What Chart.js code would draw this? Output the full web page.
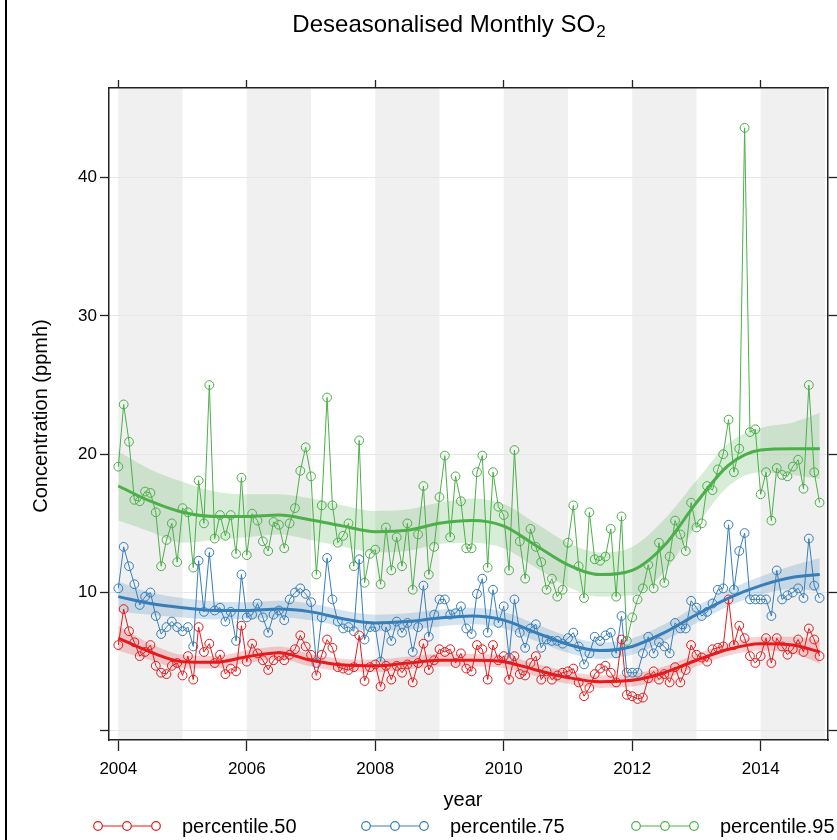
<!DOCTYPE html>
<html>
<head>
<meta charset="utf-8">
<script src="https://cdn.jsdelivr.net/npm/chart.js@4.4.1/dist/chart.umd.min.js"></script>
<style>
  body { margin: 0; background: #fff; }
  canvas { display: block; }
</style>
</head>
<body>
<canvas id="canvas" width="837" height="840"></canvas>
<script>
// monthly values, Jan 2004 .. Dec 2014
var startYear = 2004;

var p50 = [6.2, 8.8, 7.2, 6.4, 5.4, 5.7, 6.2, 4.7, 4.2, 4.1, 4.7, 4.9,
           4.0, 5.4, 3.7, 7.5, 5.7, 6.3, 4.9, 5.5, 4.1, 4.5, 4.3, 7.6,
           5.0, 6.3, 5.6, 5.1, 4.4, 5.1, 5.4, 5.1, 5.5, 5.9, 6.9, 6.1,
           5.5, 4.0, 5.5, 6.6, 6.0, 4.6, 4.5, 4.4, 4.6, 6.9, 3.6, 4.6,
           4.8, 3.2, 4.7, 3.7, 4.7, 4.2, 4.8, 3.5, 4.9, 6.3, 4.4, 5.1,
           5.9, 5.7, 5.9, 4.9, 5.6, 4.5, 4.3, 6.2, 5.9, 3.7, 6.2, 5.1,
           5.4, 3.7, 5.4, 4.1, 4.0, 4.9, 5.4, 3.7, 4.3, 3.7, 4.0, 4.2,
           4.3, 4.5, 3.5, 2.5, 3.1, 4.1, 4.5, 4.7, 4.2, 3.5, 6.6, 2.6,
           2.5, 2.3, 2.4, 3.8, 4.3, 3.7, 4.1, 3.5, 4.6, 3.5, 4.4, 6.2,
           5.5, 5.3, 5.0, 5.9, 6.0, 6.1, 9.5, 6.2, 7.6, 6.7, 5.4, 4.9,
           5.4, 6.7, 4.9, 6.7, 6.1, 5.5, 5.9, 6.6, 5.7, 7.4, 6.6, 5.4];

var p75 = [10.3, 13.3, 11.9, 10.6, 9.1, 9.7, 10.0, 8.3, 7.0, 7.5, 7.9, 7.5,
           7.2, 7.5, 6.1, 12.3, 8.6, 12.9, 8.7, 8.9, 7.9, 8.6, 6.5, 11.3,
           8.2, 8.4, 9.2, 8.2, 7.1, 8.4, 8.7, 8.0, 9.5, 10.0, 10.3, 9.9,
           9.3, 4.9, 8.2, 12.5, 9.5, 7.9, 7.4, 7.5, 7.2, 12.4, 6.6, 7.5,
           7.5, 5.0, 7.5, 6.5, 7.9, 7.1, 7.8, 5.7, 7.5, 10.5, 6.8, 8.4,
           9.5, 9.5, 8.4, 8.5, 9.0, 7.4, 7.0, 9.9, 11.0, 7.1, 10.2, 7.8,
           9.0, 5.3, 9.5, 7.1, 6.0, 7.4, 7.7, 6.0, 6.6, 6.5, 6.5, 6.3,
           6.7, 7.1, 6.1, 4.8, 5.6, 6.8, 6.5, 6.9, 7.1, 5.6, 8.3, 4.2,
           4.2, 4.2, 5.6, 6.8, 5.6, 6.4, 6.1, 5.6, 7.8, 7.4, 7.4, 9.4,
           8.9, 8.3, 8.6, 9.2, 10.2, 10.3, 14.9, 10.2, 13.0, 14.3, 9.5, 9.5,
           9.5, 9.5, 8.3, 11.6, 9.5, 9.8, 10.0, 10.3, 9.6, 13.9, 10.5, 9.6];

var p95 = [19.1, 23.6, 20.9, 16.7, 16.6, 17.3, 17.2, 15.8, 11.9, 13.8, 15.0, 12.2,
           16.1, 15.8, 11.8, 18.1, 15.0, 25.0, 13.9, 15.6, 14.1, 15.6, 12.8, 18.3,
           12.7, 15.7, 15.2, 13.7, 13.0, 15.1, 14.9, 13.2, 15.0, 16.1, 18.8, 20.5,
           18.4, 11.3, 16.3, 24.1, 16.3, 13.6, 14.1, 15.0, 11.9, 21.0, 10.7, 12.8,
           13.1, 10.6, 14.7, 11.6, 14.0, 11.9, 15.0, 10.2, 14.2, 17.7, 11.3, 13.3,
           16.9, 19.9, 14.0, 18.4, 16.6, 13.2, 13.2, 18.7, 19.9, 11.8, 18.7, 16.2,
           15.6, 11.6, 20.3, 13.7, 11.0, 14.6, 13.3, 12.2, 10.2, 11.0, 9.7, 10.2,
           13.6, 16.3, 11.9, 9.6, 15.8, 12.4, 12.3, 12.6, 14.6, 9.7, 15.5, 6.5,
           8.2, 9.5, 10.3, 12.0, 10.3, 13.6, 10.7, 12.6, 15.2, 14.2, 13.0, 16.5,
           14.7, 15.0, 17.7, 17.4, 18.9, 20.0, 22.5, 18.7, 20.4, 43.6, 21.6, 21.8,
           17.1, 18.7, 15.2, 19.0, 18.5, 18.4, 19.1, 19.6, 17.5, 25.0, 18.7, 16.5];

// smooth trend with its confidence band
var trendYears = [2004.0, 2004.5, 2005.0, 2005.5, 2006.0, 2006.5, 2007.0, 2007.5,
                  2008.0, 2008.5, 2009.0, 2009.5, 2010.0, 2010.5, 2011.0, 2011.5,
                  2012.0, 2012.5, 2013.0, 2013.5, 2014.0, 2014.5, 2014.92];

var p50Trend = [6.7, 5.7, 5.0, 4.95, 5.35, 5.65, 5.1, 4.75, 4.7, 4.9, 5.1, 5.1,
                5.0, 4.4, 3.85, 3.55, 3.65, 4.2, 5.1, 5.9, 6.3, 6.2, 5.7];
var p50Upper = [7.6, 6.3, 5.5, 5.4, 5.8, 6.1, 5.55, 5.2, 5.15, 5.35, 5.55, 5.55,
                5.45, 4.85, 4.3, 4.0, 4.1, 4.65, 5.55, 6.35, 6.8, 6.8, 6.55];
var p50Lower = [5.8, 5.1, 4.5, 4.5, 4.9, 5.2, 4.65, 4.3, 4.25, 4.45, 4.65, 4.65,
                4.55, 3.95, 3.4, 3.1, 3.2, 3.75, 4.65, 5.45, 5.8, 5.6, 4.85];

var p75Trend = [9.7, 9.2, 8.9, 8.7, 8.7, 8.8, 8.6, 8.1, 7.8, 7.9, 8.15, 8.3,
                8.0, 7.1, 6.25, 5.8, 6.1, 7.1, 8.4, 9.6, 10.5, 11.1, 11.3];
var p75Upper = [10.8, 10.0, 9.6, 9.35, 9.3, 9.4, 9.2, 8.7, 8.4, 8.5, 8.75, 8.9,
                8.6, 7.7, 6.85, 6.4, 6.7, 7.7, 9.0, 10.2, 11.15, 11.95, 12.5];
var p75Lower = [8.6, 8.4, 8.2, 8.05, 8.1, 8.2, 8.0, 7.5, 7.2, 7.3, 7.55, 7.7,
                7.4, 6.5, 5.65, 5.2, 5.5, 6.5, 7.8, 9.0, 9.85, 10.25, 10.1];

var p95Trend = [17.7, 16.6, 15.8, 15.5, 15.5, 15.6, 15.25, 14.8, 14.4, 14.5, 15.0, 15.2,
                14.8, 13.4, 12.0, 11.3, 11.6, 13.4, 16.5, 19.2, 20.3, 20.4, 20.4];
var p95Upper = [20.2, 18.9, 18.0, 17.3, 17.1, 17.1, 16.8, 16.3, 15.9, 16.0, 16.5, 16.8,
                16.4, 15.0, 13.6, 12.9, 13.3, 15.3, 18.1, 20.8, 21.9, 22.3, 23.0];
var p95Lower = [15.2, 14.4, 13.6, 13.8, 14.0, 14.2, 13.8, 13.3, 12.9, 13.0, 13.5, 13.6,
                13.2, 11.8, 10.4, 9.7, 9.8, 11.5, 14.8, 17.7, 18.7, 18.5, 18.2];

var seriesNames = ['percentile.50', 'percentile.75', 'percentile.95'];
var seriesColors = ['#E41A1C', '#377EB8', '#4DAF4A'];
var bandColors = ['rgba(228,26,28,0.2)', 'rgba(55,126,184,0.22)', 'rgba(77,175,74,0.22)'];

var yearTicks = [2004, 2006, 2008, 2010, 2012, 2014];
var shadedYears = [2004, 2006, 2008, 2010, 2012, 2014];
var concTicks = [0, 10, 20, 30, 40];
var concLabels = ['', '10', '20', '30', '40'];

var FONT = '"Liberation Sans", Arial, Helvetica, sans-serif';

function monthly(values) {
    return values.map(function (v, i) { return { x: startYear + i / 12, y: v }; });
}
function trend(values) {
    return values.map(function (v, i) { return { x: trendYears[i], y: v }; });
}

var raw = [p50, p75, p95];
var mids = [p50Trend, p75Trend, p95Trend];
var uppers = [p50Upper, p75Upper, p95Upper];
var lowers = [p50Lower, p75Lower, p95Lower];

var datasets = [];
for (var k = 0; k < 3; k++) {
    datasets.push({
        label: seriesNames[k] + ' lower',
        data: trend(lowers[k]),
        borderWidth: 0, pointRadius: 0, fill: false,
        cubicInterpolationMode: 'monotone', order: 3
    });
    datasets.push({
        label: seriesNames[k] + ' upper',
        data: trend(uppers[k]),
        borderWidth: 0, pointRadius: 0, fill: '-1',
        backgroundColor: bandColors[k],
        cubicInterpolationMode: 'monotone', order: 3
    });
    datasets.push({
        label: seriesNames[k],
        data: monthly(raw[k]),
        borderColor: seriesColors[k],
        borderWidth: 1,
        pointRadius: 4.4,
        pointBorderWidth: 1,
        pointBorderColor: seriesColors[k],
        pointBackgroundColor: 'rgba(0,0,0,0)',
        tension: 0, order: 2
    });
    datasets.push({
        label: seriesNames[k] + ' trend',
        data: trend(mids[k]),
        borderColor: seriesColors[k],
        borderWidth: 3,
        pointRadius: 0,
        cubicInterpolationMode: 'monotone', order: 1
    });
}

var decorations = {
    id: 'decorations',
    beforeDraw: function (chart) {
        var ctx = chart.ctx, area = chart.chartArea, xs = chart.scales.x;
        ctx.save();
        ctx.fillStyle = '#fff';
        ctx.fillRect(0, 0, chart.width, chart.height);
        ctx.fillStyle = '#f0f0f0';
        shadedYears.forEach(function (yr) {
            var a = Math.max(xs.getPixelForValue(yr), area.left);
            var b = Math.min(xs.getPixelForValue(yr + 1), area.right);
            if (b > a) ctx.fillRect(a, area.top, b - a, area.bottom - area.top);
        });
        ctx.restore();
    },
    afterDraw: function (chart) {
        var ctx = chart.ctx;
        ctx.save();
        ctx.fillStyle = '#000';

        // title with subscript
        var main = 'Deseasonalised Monthly SO';
        ctx.font = '24px ' + FONT;
        var w1 = ctx.measureText(main).width;
        ctx.font = '17px ' + FONT;
        var w2 = ctx.measureText('2').width;
        var tx = 448.5 - (w1 + w2) / 2;
        ctx.textBaseline = 'alphabetic';
        ctx.textAlign = 'left';
        ctx.font = '24px ' + FONT;
        ctx.fillText(main, tx, 32);
        ctx.font = '17px ' + FONT;
        ctx.fillText('2', tx + w1 + 1, 37);

        // axis titles
        ctx.font = '20px ' + FONT;
        ctx.textAlign = 'center';
        ctx.fillText('year', 463, 806);
        ctx.save();
        ctx.translate(47, 416);
        ctx.rotate(-Math.PI / 2);
        ctx.fillText('Concentration (ppmh)', 0, 0);
        ctx.restore();

        // legend
        var starts = [98, 366, 636];
        ctx.textAlign = 'left';
        for (var i = 0; i < 3; i++) {
            var x0 = starts[i], y0 = 826;
            ctx.strokeStyle = seriesColors[i];
            ctx.lineWidth = 1.2;
            ctx.beginPath();
            ctx.moveTo(x0, y0);
            ctx.lineTo(x0 + 58, y0);
            ctx.stroke();
            for (var m = 0; m < 3; m++) {
                ctx.beginPath();
                ctx.arc(x0 + m * 29, y0, 4.3, 0, Math.PI * 2);
                ctx.fillStyle = '#fff';
                ctx.fill();
                ctx.stroke();
            }
            ctx.fillStyle = '#000';
            ctx.fillText(seriesNames[i], x0 + 84, 833);
        }

        // outer frame line on the left
        ctx.fillStyle = '#000';
        ctx.fillRect(5, 0, 2, chart.height);
        ctx.restore();
    }
};

var frame = { display: true, color: '#222', width: 1.5 };

new Chart(document.getElementById('canvas'), {
    type: 'line',
    data: { datasets: datasets },
    plugins: [decorations],
    options: {
        responsive: false,
        animation: false,
        devicePixelRatio: 1,
        layout: { padding: 0 },
        plugins: {
            legend: { display: false },
            title: { display: false },
            tooltip: { enabled: false }
        },
        scales: {
            x: {
                type: 'linear', position: 'bottom',
                min: 2003.855, max: 2015.048,
                afterFit: function (s) { s.height = 100; },
                afterBuildTicks: function (s) { s.ticks = yearTicks.map(function (v) { return { value: v }; }); },
                ticks: {
                    callback: function (v) { return String(v); },
                    font: { size: 17, family: FONT }, color: '#000',
                    padding: 8, maxRotation: 0, autoSkip: false
                },
                grid: { drawOnChartArea: false, tickLength: 11, tickColor: '#222', tickWidth: 1.3 },
                border: frame
            },
            xTop: {
                type: 'linear', position: 'top',
                min: 2003.855, max: 2015.048,
                afterFit: function (s) { s.height = 88; },
                afterBuildTicks: function (s) { s.ticks = yearTicks.map(function (v) { return { value: v }; }); },
                ticks: { display: false },
                grid: { drawOnChartArea: false, tickLength: 8, tickColor: '#222', tickWidth: 1.3 },
                border: frame
            },
            y: {
                type: 'linear', position: 'left',
                min: -0.665, max: 46.48,
                afterFit: function (s) { s.width = 109; },
                afterBuildTicks: function (s) { s.ticks = concTicks.map(function (v) { return { value: v }; }); },
                ticks: {
                    callback: function (v, i) { return concLabels[i]; },
                    font: { size: 17, family: FONT }, color: '#000', padding: 3
                },
                grid: { color: '#e6e6e6', lineWidth: 1, tickLength: 9, tickColor: '#222', tickWidth: 1.3 },
                border: frame
            },
            yRight: {
                type: 'linear', position: 'right',
                min: -0.665, max: 46.48,
                afterFit: function (s) { s.width = 9; },
                afterBuildTicks: function (s) { s.ticks = concTicks.map(function (v) { return { value: v }; }); },
                ticks: { display: false },
                grid: { drawOnChartArea: false, tickLength: 9, tickColor: '#222', tickWidth: 1.3 },
                border: frame
            }
        }
    }
});
</script>
</body>
</html>
